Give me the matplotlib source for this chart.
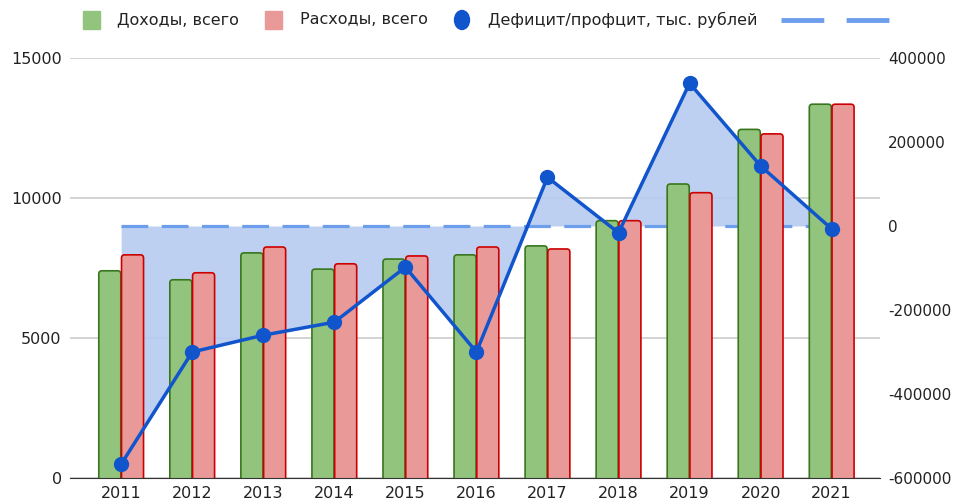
import numpy as np
import matplotlib
matplotlib.use("Agg")
import matplotlib.pyplot as plt
from matplotlib.patches import Rectangle, Ellipse, FancyBboxPatch
from matplotlib.lines import Line2D

plt.rcParams['font.family'] = ['DejaVu Sans']
plt.rcParams['axes.unicode_minus'] = False

# data
years = ['2011', '2012', '2013', '2014', '2015', '2016', '2017', '2018', '2019', '2020', '2021']
income = [7400, 7080, 8040, 7460, 7820, 7970, 8290, 9190, 10500, 12450, 13350]
expense = [7970, 7330, 8250, 7650, 7930, 8250, 8180, 9190, 10190, 12290, 13350]
deficit = [-567000, -300000, -260000, -229000, -98000, -300000, 116000, -16000, 340000, 143000, -7000]
zero_line = [0] * len(years)
labels = ['Доходы, всего', 'Расходы, всего', 'Дефицит/профцит, тыс. рублей']

green, green_edge = '#93c47d', '#38761d'
pink, pink_edge = '#ea9999', '#cc0000'
blue = '#1155cc'
dash_blue = '#6d9eeb'
fill_blue = '#b7cbf1'
txt = '#222222'

fig = plt.figure(figsize=(9.61, 5.04), dpi=100)
ax = fig.add_axes([70/961, 26/504, 810/961, 420/504])
ax2 = ax.twinx()
ax2.set_ylim(-600000, 400000)
ax2.set_yticks([-600000, -400000, -200000, 0, 200000, 400000])

x = np.arange(len(years))
w = 0.31
ax.set_ylim(0, 15000)
ax.set_xlim(-0.72, 10.68)

# everything is drawn on the left axes so the order is grid < fill < dashes < bars < line
t2 = ax2.transData
ax.fill_between(x, deficit, zero_line, color=fill_blue, alpha=0.9, linewidth=0, zorder=1, transform=t2)
ax.plot(x, zero_line, color=dash_blue, linewidth=2.3, dashes=(8.4, 4.2), zorder=2, transform=t2)
b1 = ax.bar(x - w/2 - 0.005, income, w, color=green, edgecolor=green_edge, linewidth=1.2, zorder=3)
b2 = ax.bar(x + w/2 + 0.005, expense, w, color=pink, edgecolor=pink_edge, linewidth=1.2, zorder=3)
ax.plot(x, deficit, color=blue, linewidth=2.5, marker='o', markersize=10, zorder=5, transform=t2)

# rounded bar tops
r = 0.045
asp = (15000 / 420) / (11.4 / 810)
for bars in (b1, b2):
    for p in bars:
        x0, y0 = p.get_xy()
        fb = FancyBboxPatch((x0 + r, y0 - 300), p.get_width() - 2*r, p.get_height() + 300 - r*asp,
                            boxstyle='round,pad=%f,rounding_size=%f' % (r, r), mutation_aspect=asp,
                            facecolor=p.get_facecolor(), edgecolor=p.get_edgecolor(),
                            linewidth=1.2, zorder=3)
        ax.add_patch(fb)
        p.set_visible(False)

ax.set_ylim(0, 15000)
ax.set_yticks([0, 5000, 10000, 15000])
ax.set_xlim(-0.72, 10.68)
ax.set_xticks(x)
ax.set_xticklabels(years)
ax.grid(axis='y', color='#cccccc', linewidth=1.2, zorder=0)
ax.set_axisbelow(True)

for a in (ax, ax2):
    for s in a.spines.values():
        s.set_visible(False)
    a.tick_params(length=0, labelsize=11.5, colors=txt)
ax2.tick_params(labelsize=11)
ax.spines['bottom'].set_visible(True)
ax.spines['bottom'].set_color('#333333')
ax.spines['bottom'].set_zorder(6)
ax.tick_params(axis='y', pad=6)
ax2.tick_params(axis='y', pad=6)
ax.tick_params(axis='x', pad=6)

# legend drawn in figure coords
ly = 1 - 20/504
fs = 11.5
items = [(83, 'patch', green), (265, 'patch', pink), (455, 'dot', blue), (781, 'dash', dash_blue)]
text_x = [117, 300, 488]
for i, (px, kind, col) in enumerate(items):
    if kind == 'patch':
        fig.add_artist(Rectangle((px/961, ly - 9/504), 17/961, 18/504, color=col, transform=fig.transFigure))
    elif kind == 'dot':
        fig.add_artist(Ellipse(((px+7)/961, ly), 15/961, 19/504, color=col, transform=fig.transFigure))
    else:
        fig.add_artist(Line2D([px/961, (px+108)/961], [ly, ly], color=col, linewidth=3.5,
                              dashes=(8.8, 4.6), transform=fig.transFigure))
    if i < 3:
        fig.text(text_x[i]/961, ly, labels[i], fontsize=fs, color=txt, va='center', ha='left')

fig.savefig('out.png', dpi=100)
